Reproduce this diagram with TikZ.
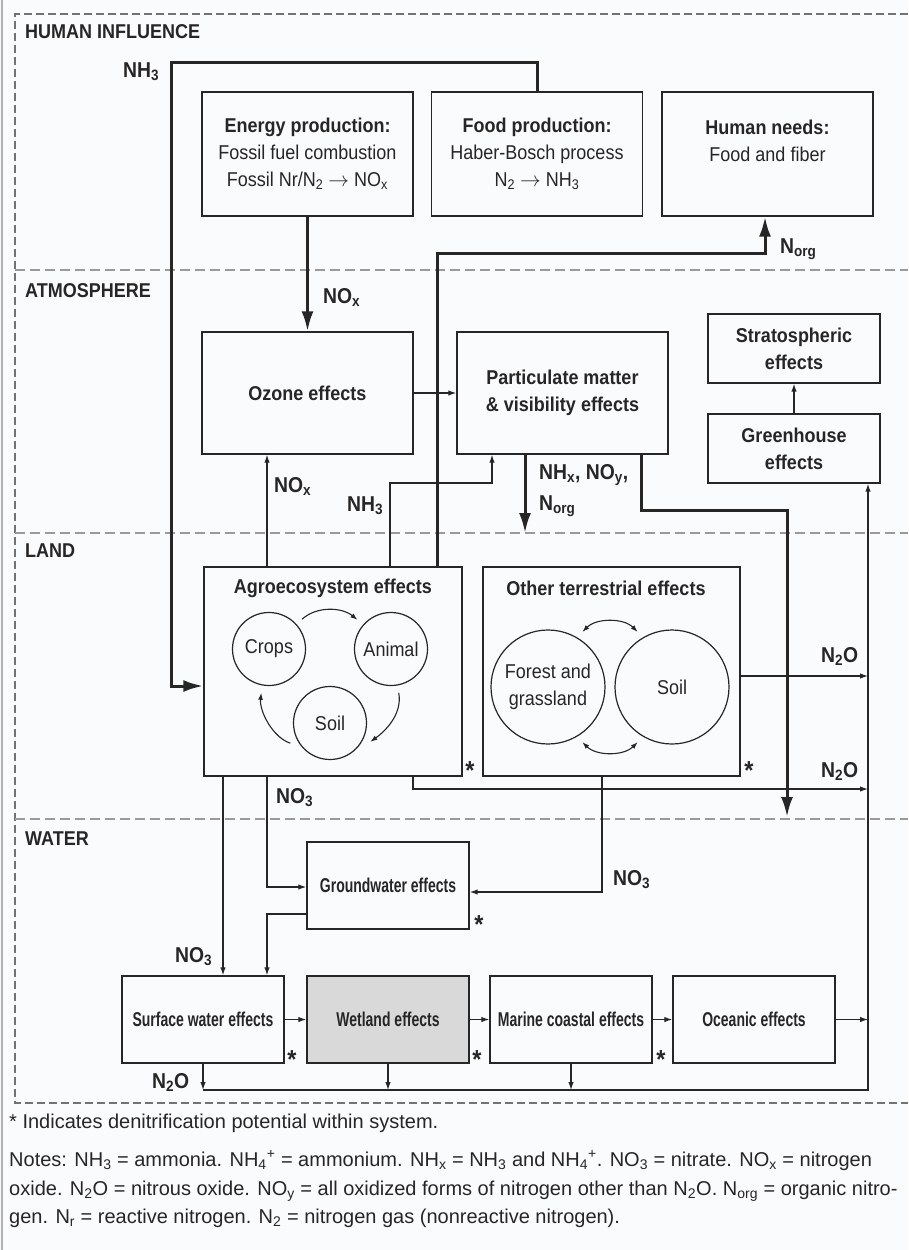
\documentclass[tikz,border=0pt]{standalone}
\usepackage{fontspec}
\setmainfont{Liberation Sans}[FakeStretch=0.9]
\newfontfamily\narrowsans{Liberation Sans}[FakeStretch=0.7]
\newfontfamily\plainsans{Liberation Sans}
\usetikzlibrary{arrows.meta}
\definecolor{ink}{HTML}{262626}
\definecolor{sepgray}{HTML}{9A9A9A}
\definecolor{wetgray}{HTML}{D9D9D9}
\definecolor{paper}{HTML}{FAFBFD}
\newcommand\sbs[1]{\textsubscript{#1}}
\newcommand\sps[1]{\textsuperscript{#1}}

\begin{document}
\begin{tikzpicture}[x=1pt,y=-1pt,>={Latex[length=8pt,width=5.5pt]},
        every node/.style={text=ink,font=\fontsize{20}{27}\selectfont},
        box/.style={draw=ink,line width=1.4pt,minimum width=211pt,minimum height=124pt,
                    inner sep=0pt,align=center},
        hbox/.style={box,font=\fontsize{20}{27}\selectfont\bfseries},
        wbox/.style={box,minimum width=162pt,minimum height=87pt,
                     font=\narrowsans\bfseries\fontsize{20}{24}\selectfont},
        circ/.style={draw=ink,circle,line width=1.2pt,inner sep=0pt,minimum size=73pt,
                     outer sep=8pt,align=center},
        flow/.style={draw=ink,line width=1.2pt,->},
        bigflow/.style={draw=ink,line width=3pt,-{Latex[length=20pt,width=12pt]}},
        loopy/.style={draw=ink,line width=1.1pt,-{Latex[length=7pt,width=5pt]}},
        twoway/.style={draw=ink,line width=1.1pt,{Latex[length=7pt,width=5pt]}-{Latex[length=7pt,width=5pt]}},
        chem/.style={font=\fontsize{21.5}{31}\selectfont\bfseries,anchor=base west,
                     inner sep=0pt,align=left},
        layer/.style={font=\fontsize{20}{24}\selectfont\bfseries,anchor=base west,inner sep=0pt},
        denit/.style={font=\fontsize{26}{26}\selectfont\bfseries,anchor=base,inner sep=0pt},
        note/.style={font=\plainsans\fontsize{20}{24}\selectfont,anchor=base west,inner sep=0pt},
        sep/.style={draw=sepgray,line width=1.2pt,dash pattern=on 10pt off 5pt}]

  \useasboundingbox (0,0) rectangle (908,1250);
  \fill[paper] (0,0) rectangle (908,1250);
  \draw[black!30,line width=2.5pt] (2,0) -- (2,1250);

  \draw[draw=black!55,line width=1.3pt,dash pattern=on 8pt off 4pt]
    (908,14) -- (15,14) -- (15,1103) -- (908,1103);
  \draw[sep] (15,270) -- (908,270);
  \draw[sep] (15,533) -- (908,533);
  \draw[sep] (15,819) -- (908,819);

  \node[layer] (human) at (25,38) {HUMAN INFLUENCE};
  \node[layer] (atmos) at (25,297) {ATMOSPHERE};
  \node[layer] (land) at (25,557) {LAND};
  \node[layer] (water) at (25,845) {WATER};

  \node[box] (energy) at (307.5,154) {\textbf{Energy production:}\\Fossil fuel combustion\\
    Fossil Nr/N\sbs{2} $\rightarrow$ NO\sbs{x}};
  \node[box] (food) at (537,154) {\textbf{Food production:}\\Haber-Bosch process\\
    N\sbs{2} $\rightarrow$ NH\sbs{3}};
  \node[box] (needs) at (767.5,154) {\textbf{Human needs:}\\Food and fiber\\\mbox{}};

  \node[hbox,minimum height=122pt] (ozone) at (307.5,393) {Ozone effects};
  \node[hbox,minimum height=122pt] (pm) at (562.5,393) {Particulate matter\\\& visibility effects};
  \node[hbox,minimum width=172pt,minimum height=69pt] (strato) at (794,348.5) {Stratospheric\\effects};
  \node[hbox,minimum width=172pt,minimum height=69pt] (green) at (794,448.5) {Greenhouse\\effects};

  \node[box,minimum width=258pt,minimum height=209pt] (agro) at (333,671.5) {};
  \node[font=\fontsize{20}{24}\selectfont\bfseries] (agrotitle) at (333,588) {Agroecosystem effects};
  \node[circ] (crops) at (269,649) {Crops};
  \node[circ] (animal) at (391,649) {Animal};
  \node[circ] (soila) at (330,723) {Soil};
  \draw[loopy] (crops.42) .. controls +(14,-13) and +(-16,-13) .. (animal.139);
  \draw[loopy] (animal.-80) .. controls +(4,22) and +(14,-10) .. (soila.-25);
  \draw[loopy] (soila.-153) .. controls +(-18,-6) and +(-2,18) .. (crops.-100);

  \node[box,minimum width=257pt,minimum height=209pt] (other) at (611.5,671.5) {};
  \node[font=\fontsize{20}{24}\selectfont\bfseries] (othertitle) at (606,588) {Other terrestrial effects};
  \node[circ,minimum size=114pt] (forest) at (548,687) {Forest and\\grassland};
  \node[circ,minimum size=114pt] (soilb) at (672,687) {Soil};
  \draw[twoway] (forest.58) .. controls +(14,-14) and +(-14,-14) .. (soilb.122);
  \draw[twoway] (forest.-58) .. controls +(14,14) and +(-14,14) .. (soilb.-122);

  \node[wbox] (ground) at (388,885.5) {Groundwater effects};
  \node[wbox] (surface) at (203,1019.5) {Surface water effects};
  \node[wbox,fill=wetgray] (wetland) at (388,1019.5) {Wetland effects};
  \node[wbox] (marine) at (571,1019.5) {Marine coastal effects};
  \node[wbox] (ocean) at (754,1019.5) {Oceanic effects};

  \node[denit] (stagro) at (470,779) {*};
  \node[denit] (stother) at (749,779) {*};
  \node[denit] (stground) at (479,933) {*};
  \node[denit] (stsurface) at (292,1068) {*};
  \node[denit] (stwetland) at (477,1068) {*};
  \node[denit] (stmarine) at (661,1068) {*};

  \coordinate (bus) at (868,1090);
  \coordinate (nhxend) at (525,533);
  \coordinate (wetend) at (787,817);

  \draw[bigflow] (food.north) |- (171,62) -- (171,686) -- (agro.west |- 0,686);
  \draw[bigflow] (energy.south) -- (ozone.north);
  \draw[bigflow] (agro.north -| 437,0) |- (765,253) -- (needs.south -| 765,0);
  \draw[bigflow] (pm.south -| 525,0) -- (nhxend);
  \draw[bigflow] (pm.south -| 641,0) |- (787,510) -- (wetend);

  \draw[flow] (agro.north -| 267,0) -- (ozone.south -| 267,0);
  \draw[flow] (agro.north -| 390,0) |- (492,483) -- (pm.south -| 492,0);
  \draw[flow] (ozone) -- (pm);
  \draw[flow] (green) -- (strato);
  \draw[flow] (other.east |- 0,676) -- (bus |- 0,676);
  \draw[flow] (agro.south -| 413,0) |- (bus |- 0,789);
  \draw[flow] (agro.south -| 223,0) -- (surface.north -| 223,0);
  \draw[flow] (agro.south -| 267,0) |- (ground.west |- 0,887);
  \draw[flow] (ground.west |- 0,914) -| (surface.north -| 267,0);
  \draw[flow] (other.south -| 602,0) |- (ground.east |- 0,892);
  \draw[flow] (surface) -- (wetland);
  \draw[flow] (wetland) -- (marine);
  \draw[flow] (marine) -- (ocean);
  \draw[flow] (ocean) -- (ocean -| bus);
  \draw[flow] (surface.south) -- (surface.south |- bus);
  \draw[flow] (wetland.south) -- (wetland.south |- bus);
  \draw[flow] (marine.south) -- (marine.south |- bus);
  \draw[flow] (surface.south |- bus) -- (bus) -- (green.south -| bus);

  \node[chem] (nhtop) at (123,77) {NH\sbs{3}};
  \node[chem] (noxtop) at (323,303) {NO\sbs{x}};
  \node[chem] (norgtop) at (780,253) {N\sbs{org}};
  \node[chem] (noxlow) at (274,492) {NO\sbs{x}};
  \node[chem] (nhlow) at (347,511) {NH\sbs{3}};
  \node[chem,anchor=north west] (nhx) at (539,464) {NH\sbs{x}, NO\sbs{y},\\N\sbs{org}};
  \node[chem] (ntwoa) at (821,662) {N\sbs{2}O};
  \node[chem] (ntwob) at (821,777) {N\sbs{2}O};
  \node[chem] (nothree) at (276,803) {NO\sbs{3}};
  \node[chem] (nothreeb) at (613,885) {NO\sbs{3}};
  \node[chem] (nothreec) at (175,962) {NO\sbs{3}};
  \node[chem] (ntwoc) at (152,1088) {N\sbs{2}O};

  \node[note] (starnote) at (9,1128) {* Indicates denitrification potential within system.};
  \node[note] (notea) at (9,1166) {Notes: NH\sbs{3} = ammonia. NH\sbs{4}\sps{+} = ammonium.
    NH\sbs{x} = NH\sbs{3} and NH\sbs{4}\sps{+}. NO\sbs{3} = nitrate. NO\sbs{x} = nitrogen};
  \node[note] (noteb) at (9,1195) {oxide. N\sbs{2}O = nitrous oxide. NO\sbs{y} = all oxidized
    forms of nitrogen other than N\sbs{2}O. N\sbs{org} = organic nitro-};
  \node[note] (notec) at (9,1223) {gen. N\sbs{r} = reactive nitrogen. N\sbs{2} = nitrogen gas
    (nonreactive nitrogen).};

\end{tikzpicture}
\end{document}
